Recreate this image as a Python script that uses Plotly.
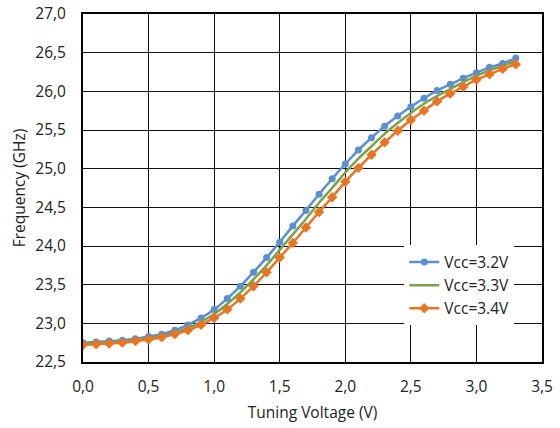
import plotly.graph_objects as go

voltage = [round(0.1 * i, 1) for i in range(34)]

vcc32 = [22.75, 22.76, 22.77, 22.78, 22.80, 22.83, 22.86, 22.91, 22.98, 23.07,
         23.18, 23.32, 23.48, 23.66, 23.85, 24.05, 24.26, 24.46, 24.67, 24.87,
         25.06, 25.24, 25.40, 25.55, 25.68, 25.80, 25.91, 26.01, 26.09, 26.17,
         26.24, 26.31, 26.36, 26.43]
vcc33 = [22.74, 22.75, 22.76, 22.77, 22.79, 22.81, 22.84, 22.88, 22.94, 23.02,
         23.12, 23.25, 23.40, 23.57, 23.75, 23.95, 24.15, 24.35, 24.56, 24.75,
         24.95, 25.13, 25.29, 25.45, 25.59, 25.72, 25.84, 25.94, 26.03, 26.12,
         26.20, 26.27, 26.33, 26.39]
vcc34 = [22.72, 22.73, 22.74, 22.75, 22.77, 22.79, 22.82, 22.86, 22.91, 22.98,
         23.07, 23.18, 23.32, 23.48, 23.66, 23.85, 24.04, 24.24, 24.44, 24.63,
         24.83, 25.01, 25.18, 25.34, 25.49, 25.63, 25.75, 25.87, 25.97, 26.06,
         26.15, 26.22, 26.29, 26.35]

x_ticks = [0.0, 0.5, 1.0, 1.5, 2.0, 2.5, 3.0, 3.5]
x_labels = ["0,0", "0,5", "1,0", "1,5", "2,0", "2,5", "3,0", "3,5"]
y_ticks = [22.5, 23.0, 23.5, 24.0, 24.5, 25.0, 25.5, 26.0, 26.5, 27.0]
y_labels = ["22,5", "23,0", "23,5", "24,0", "24,5", "25,0", "25,5", "26,0", "26,5", "27,0"]

FONT = "'Open Sans', sans-serif"

fig = go.Figure()
fig.add_trace(go.Scatter(x=voltage, y=vcc32, name="Vcc=3.2V", mode="lines+markers",
                         line=dict(color="#5B8FD0", width=2.5, shape="spline"),
                         marker=dict(symbol="circle", size=7, color="#5B8FD0")))
fig.add_trace(go.Scatter(x=voltage, y=vcc33, name="Vcc=3.3V", mode="lines",
                         line=dict(color="#77A34A", width=2.5, shape="spline")))
fig.add_trace(go.Scatter(x=voltage, y=vcc34, name="Vcc=3.4V", mode="lines+markers",
                         line=dict(color="#EB7424", width=2.5, shape="spline"),
                         marker=dict(symbol="diamond", size=8, color="#EB7424")))

fig.update_layout(
    width=560, height=428,
    margin=dict(l=83, r=18, t=14, b=66),
    paper_bgcolor="white", plot_bgcolor="white",
    font=dict(family=FONT, size=15.5, color="#222"),
    showlegend=True,
    legend=dict(x=0.70, y=0.335, xanchor="left", yanchor="top",
                bgcolor="white", borderwidth=0, font=dict(size=15.5, color="#222"),
                tracegroupgap=0),
)
fig.update_xaxes(range=[0, 3.5], tickvals=x_ticks, ticktext=x_labels,
                 showgrid=True, gridcolor="#111", gridwidth=1,
                 showline=True, linecolor="black", linewidth=2, mirror=True,
                 ticks="outside", ticklen=9, tickcolor="white", zeroline=False,
                 automargin=False,
                 title=dict(text="Tuning Voltage (V)", font=dict(size=15.5), standoff=12))
fig.update_yaxes(range=[22.5, 27.0], tickvals=y_ticks, ticktext=y_labels,
                 showgrid=True, gridcolor="#111", gridwidth=1,
                 showline=True, linecolor="black", linewidth=2, mirror=True,
                 ticks="outside", ticklen=12, tickcolor="white", zeroline=False,
                 automargin=False,
                 title=dict(text="Frequency (GHz)", font=dict(size=15.5), standoff=6))

fig.write_html("out.html")
